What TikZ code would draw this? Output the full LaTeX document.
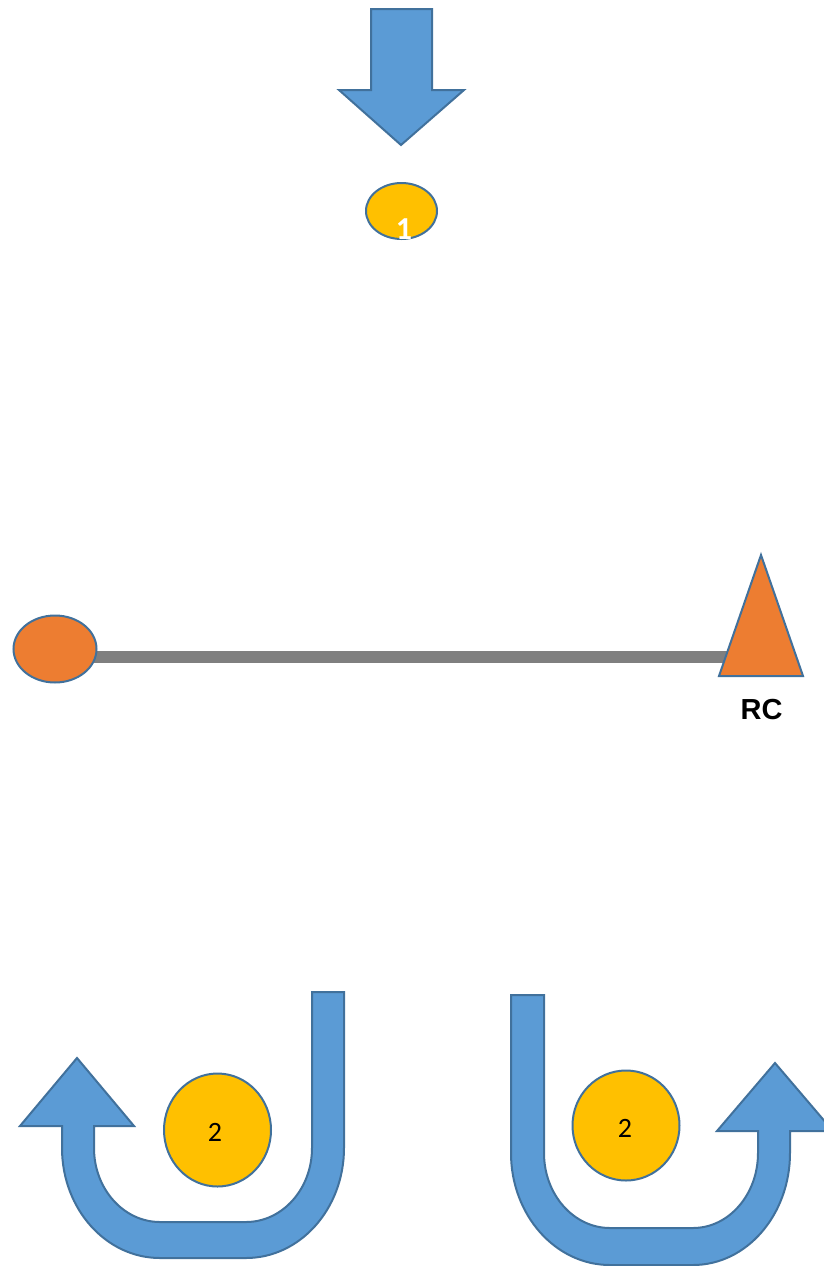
\documentclass[tikz,border=0pt]{standalone}
\usepackage{fontspec}
\setmainfont{Carlito}
\newfontfamily\rcfont{Liberation Sans}
\usetikzlibrary{shapes.geometric}
\definecolor{bluefill}{HTML}{5B9BD5}
\definecolor{blueline}{HTML}{41719C}
\definecolor{orangefill}{HTML}{ED7D31}
\definecolor{yellowfill}{HTML}{FFC000}
\definecolor{grayline}{HTML}{7F7F7F}
\begin{document}
\begin{tikzpicture}[x=1pt,y=-1pt,
  bluearrow/.style={fill=bluefill,draw=blueline,line width=2pt,line join=miter},
  orangeshape/.style={fill=orangefill,draw=blueline,line width=2pt},
  yellowball/.style={ellipse,fill=yellowfill,draw=blueline,line width=2pt,inner sep=0pt},
  orangeball/.style={ellipse,fill=orangefill,draw=blueline,line width=2pt,inner sep=0pt},
  bar/.style={draw=grayline,line width=12pt},
  numtext/.style={font=\fontsize{28}{28}\selectfont,text=black,inner sep=0pt}]
\useasboundingbox (0,0) rectangle (824,1266);
\clip (0,0) rectangle (824,1266);
\fill[white] (0,0) rectangle (824,1266);

% top arrow
\draw[bluearrow] (371,9) -- (432,9) -- (432,90) -- (464,90) -- (401,145) -- (339,90) -- (371,90) -- cycle;

% circle 1
\node[yellowball,minimum width=71pt,minimum height=56pt] (c1) at (401.5,211) {};
\node[text=white,font=\bfseries\fontsize{32}{32}\selectfont,anchor=base,inner sep=0pt] (t1) at (404,239) {1};

% bar with ball and triangle
\coordinate (barL) at (90,657);
\coordinate (barR) at (735,657);
\draw[bar] (barL) -- (barR);
\node[orangeball,minimum width=83pt,minimum height=67pt] (ball) at (55,649) {};
\draw[orangeshape,line join=miter] (761,555) -- (803,676) -- (719,676) -- cycle;
\node[font=\rcfont\bfseries\fontsize{29}{29}\selectfont,anchor=base,inner sep=0pt] (rc) at (761.5,719) {RC};

% left U-turn arrow
\draw[bluearrow] (344,992) -- (344,1148)
  arc[start angle=0,end angle=90,x radius=98,y radius=110] -- (160,1258)
  arc[start angle=90,end angle=180,x radius=98,y radius=110] -- (62,1126)
  -- (20,1126) -- (77,1058) -- (134,1126) -- (94,1126) -- (94,1148)
  arc[start angle=180,end angle=90,x radius=66,y radius=74] -- (246,1222)
  arc[start angle=90,end angle=0,x radius=66,y radius=74] -- (312,992) -- cycle;

% right U-turn arrow
\draw[bluearrow] (511,995) -- (511,1153)
  arc[start angle=180,end angle=90,x radius=99,y radius=112] -- (693,1265)
  arc[start angle=90,end angle=0,x radius=97,y radius=112] -- (790,1131)
  -- (833,1131) -- (775,1063) -- (717,1131) -- (758,1131) -- (758,1153)
  arc[start angle=0,end angle=90,x radius=65,y radius=75] -- (610,1228)
  arc[start angle=90,end angle=180,x radius=66,y radius=75] -- (544,995) -- cycle;

% circles 2
\node[yellowball,minimum width=107pt,minimum height=113pt] (c2l) at (217.5,1130) {};
\node[numtext] (t2l) at (215,1132) {2};
\node[yellowball,minimum width=107pt,minimum height=110pt] (c2r) at (626,1125.5) {};
\node[numtext] (t2r) at (625,1128) {2};
\end{tikzpicture}
\end{document}
